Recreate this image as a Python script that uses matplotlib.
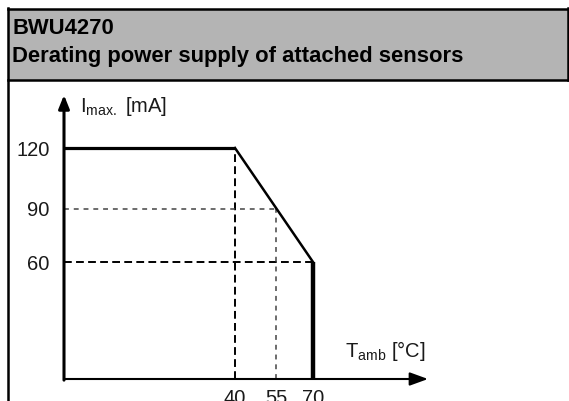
import matplotlib
matplotlib.use('Agg')
import matplotlib.pyplot as plt
import numpy as np
from matplotlib.patches import Rectangle
from matplotlib.lines import Line2D
from matplotlib.scale import FuncScale

plt.rcParams['font.family'] = ['Liberation Sans', 'DejaVu Sans']

# ---- data ----
title_line1 = "BWU4270"
title_line2 = "Derating power supply of attached sensors"
plateau_temp = [0, 40]
plateau_ima = [120, 120]
slope_temp = [40, 70]
slope_ima = [120, 60]
cutoff_temp = [70, 70]
cutoff_ima = [60, 0]
x_ticks = [40, 55, 70]
y_ticks = [60, 90, 120]
x_label = r"T$_{\mathregular{amb}}$ [°C]"
y_label = r"I$_{\mathregular{max.}}$ [mA]"

W, H = 569, 401
fig = plt.figure(figsize=(W / 100, H / 100), dpi=100)

# ---- frame and header ----
def fx(px):
    return px / W

def fy(py):
    return 1 - py / H

fig.patches.append(Rectangle((fx(8), fy(80)), fx(568) - fx(8), fy(9) - fy(80),
                             transform=fig.transFigure, facecolor='#b4b4b4',
                             edgecolor='none', zorder=0))
for xs, ys in [([8, 568], [8.5, 8.5]), ([8, 568], [80, 80]),
               ([7.5, 7.5], [8, 401]), ([567.5, 567.5], [8, 80])]:
    fig.add_artist(Line2D([fx(x) for x in xs], [fy(y) for y in ys],
                          transform=fig.transFigure, color='black', lw=1.8,
                          solid_capstyle='projecting'))

fig.text(fx(12), fy(34), title_line1, fontsize=15.8, fontweight='bold',
         va='baseline', ha='left', color='black')
fig.text(fx(12), fy(62), title_line2, fontsize=15.8, fontweight='bold',
         va='baseline', ha='left', color='black')

# ---- plot axes (schematic, non-linear spacing as in the reference) ----
ax = fig.add_axes([fx(64), fy(379), fx(428) - fx(64), fy(95) - fy(379)])
ax.patch.set_alpha(0)

xa, xp = [0, 40, 55, 70, 90], [0, 171, 212, 249, 364]
ya, yp = [0, 60, 90, 120, 150], [0, 117, 170, 231, 284]
ax.set_xscale(FuncScale(ax.xaxis, (lambda v: np.interp(v, xa, xp),
                                   lambda v: np.interp(v, xp, xa))))
ax.set_yscale(FuncScale(ax.yaxis, (lambda v: np.interp(v, ya, yp),
                                   lambda v: np.interp(v, yp, ya))))
ax.set_xlim(0, 90)
ax.set_ylim(0, 150)
for s in ax.spines.values():
    s.set_visible(False)

# guide lines
t40, t55, t70 = x_ticks[0], x_ticks[1], x_ticks[2]
i60, i90, i120 = y_ticks[0], y_ticks[1], y_ticks[2]
ax.plot([t40, t40], [0, i120], color='black', lw=1.4, dashes=(4, 2.2),
        clip_on=False, zorder=2)
ax.plot([0, t70], [i60, i60], color='black', lw=1.4, dashes=(4, 2.2),
        clip_on=False, zorder=2)
ax.plot([0, t55], [i90, i90], color='#444444', lw=1.1, dashes=(3.2, 3.2),
        clip_on=False, zorder=2)
ax.plot([t55, t55], [0, i90], color='#444444', lw=1.1, dashes=(3.2, 3.2),
        clip_on=False, zorder=2)

# derating curve
ax.plot(plateau_temp, plateau_ima, color='black', lw=2.3, clip_on=False,
        zorder=3, solid_capstyle='butt')
ax.plot(slope_temp, slope_ima, color='black', lw=1.8, clip_on=False, zorder=3)
ax.plot(cutoff_temp, cutoff_ima, color='black', lw=3.2, clip_on=False,
        zorder=3, solid_capstyle='butt')

# axes arrows
ax.annotate('', xy=(1, 0), xytext=(0, 0), xycoords='axes fraction',
            arrowprops=dict(arrowstyle='-|>,head_length=0.55,head_width=0.2',
                            mutation_scale=20, lw=1.5, color='black',
                            shrinkA=0, shrinkB=0), zorder=4)
ax.annotate('', xy=(0, 1), xytext=(0, -0.004), xycoords='axes fraction',
            arrowprops=dict(arrowstyle='-|>,head_length=0.4,head_width=0.16',
                            mutation_scale=20, lw=2.2, color='black',
                            shrinkA=0, shrinkB=0), zorder=4)

ax.set_xticks(x_ticks, labels=[str(v) for v in x_ticks])
ax.set_yticks(y_ticks, labels=[str(v) for v in y_ticks])
ax.tick_params(axis='both', length=0, labelsize=14.5, labelcolor='#1a1a1a')
ax.tick_params(axis='y', pad=10.5)
ax.tick_params(axis='x', pad=7.5)

fig.text(fx(80), fy(112), y_label, fontsize=14.5, color='#1a1a1a',
         ha='left', va='baseline')
fig.text(fx(345), fy(357), x_label, fontsize=14.5, color='#1a1a1a',
         ha='left', va='baseline')

fig.savefig('out.png', dpi=100)
